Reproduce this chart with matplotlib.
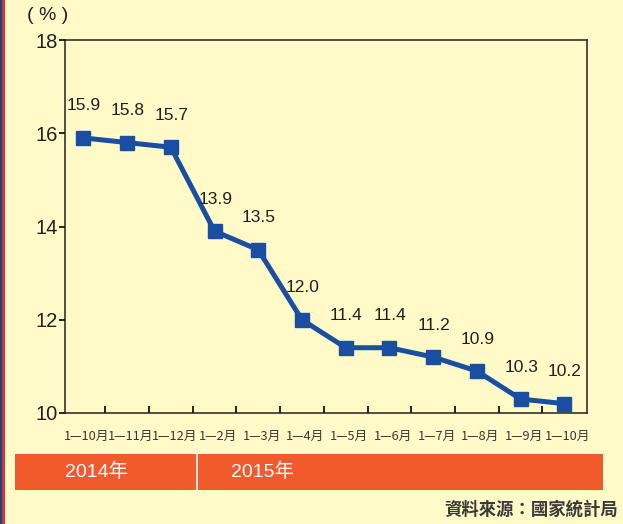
import matplotlib
matplotlib.use("Agg")
import matplotlib.pyplot as plt
from matplotlib.patches import Rectangle
from matplotlib.lines import Line2D

categories = ["1—10月", "1—11月", "1—12月", "1—2月", "1—3月", "1—4月",
              "1—5月", "1—6月", "1—7月", "1—8月", "1—9月", "1—10月"]
values = [15.9, 15.8, 15.7, 13.9, 13.5, 12.0, 11.4, 11.4, 11.2, 10.9, 10.3, 10.2]
value_labels = ["15.9", "15.8", "15.7", "13.9", "13.5", "12.0", "11.4", "11.4",
                "11.2", "10.9", "10.3", "10.2"]
yticks = [10, 12, 14, 16, 18]
years = ["2014年", "2015年"]

BG = "#FFFAC8"
LINE = "#1A4EA2"
ORANGE = "#F15A2B"

W, H = 623, 524
fig = plt.figure(figsize=(W / 100, H / 100), dpi=100, facecolor=BG)

def fx(px):
    return px / W

def fy(py):
    return 1 - py / H

ax = fig.add_axes([fx(65), fy(413), fx(587) - fx(65), fy(40) - fy(413)])
ax.set_facecolor(BG)
x = list(range(len(values)))
ax.plot(x, values, color=LINE, lw=3.6, marker="s", ms=10.5, mec=LINE, mfc=LINE,
        solid_joinstyle="miter")
ax.set_xlim(-0.42, 11.52)
ax.set_ylim(10, 18)

num_font = ["Liberation Sans", "DejaVu Sans"]
for xi, v, lab in zip(x, values, value_labels):
    ax.annotate(lab, (xi, v), xytext=(0.5, 23), textcoords="offset points",
                ha="center", va="center", fontsize=12.5, color="#231F20",
                family=num_font)

ax.set_yticks(yticks)
ax.set_yticklabels([str(t) for t in yticks], family=num_font, fontsize=14.5,
                   color="#231F20")
ax.tick_params(axis="y", direction="out", length=4, width=1.2, pad=1)

ax.set_xticks([i + 0.5 for i in range(len(values) - 1)])
ax.set_xticklabels([])
ax.tick_params(axis="x", direction="in", length=5, width=1.2)
for xi, c in zip(x, categories):
    ax.text(xi + 0.08, -0.045, c, transform=ax.get_xaxis_transform(),
            ha="center", va="top", fontsize=9.2,
            family=["Liberation Sans Narrow", "Noto Sans CJK TC"],
            color="#3A3530")
for s in ax.spines.values():
    s.set_color("#231F20")
    s.set_linewidth(1.1)

fig.text(fx(48), fy(15), "( % )", ha="center", va="center", fontsize=14,
         family=num_font, color="#231F20")

# left border stripes
fig.add_artist(Rectangle((0, 0), fx(2), 1, transform=fig.transFigure,
                         color="#1B3F8B", lw=0))
fig.add_artist(Rectangle((fx(2), 0), fx(2.5), 1, transform=fig.transFigure,
                         color="#D9342B", lw=0))

# year band
fig.add_artist(Rectangle((fx(15), fy(490)), fx(603) - fx(15), fy(454) - fy(490),
                         transform=fig.transFigure, color=ORANGE, lw=0))
fig.add_artist(Line2D([fx(196.5), fx(196.5)], [fy(490), fy(454)],
                      transform=fig.transFigure, color="white", lw=1.2))
cjk = ["Liberation Sans", "Noto Sans CJK TC"]
fig.text(fx(97), fy(472), years[0], ha="center", va="center", fontsize=14,
         color="white", family=cjk)
fig.text(fx(262), fy(472), years[1], ha="center", va="center", fontsize=14,
         color="white", family=cjk)

fig.text(fx(618), fy(510), "資料來源：國家統計局", ha="right", va="center",
         fontsize=12.5, color="#3A3A3A", family=["Noto Sans CJK TC"],
         fontweight="bold")

fig.savefig("out.png", dpi=100, facecolor=BG)
